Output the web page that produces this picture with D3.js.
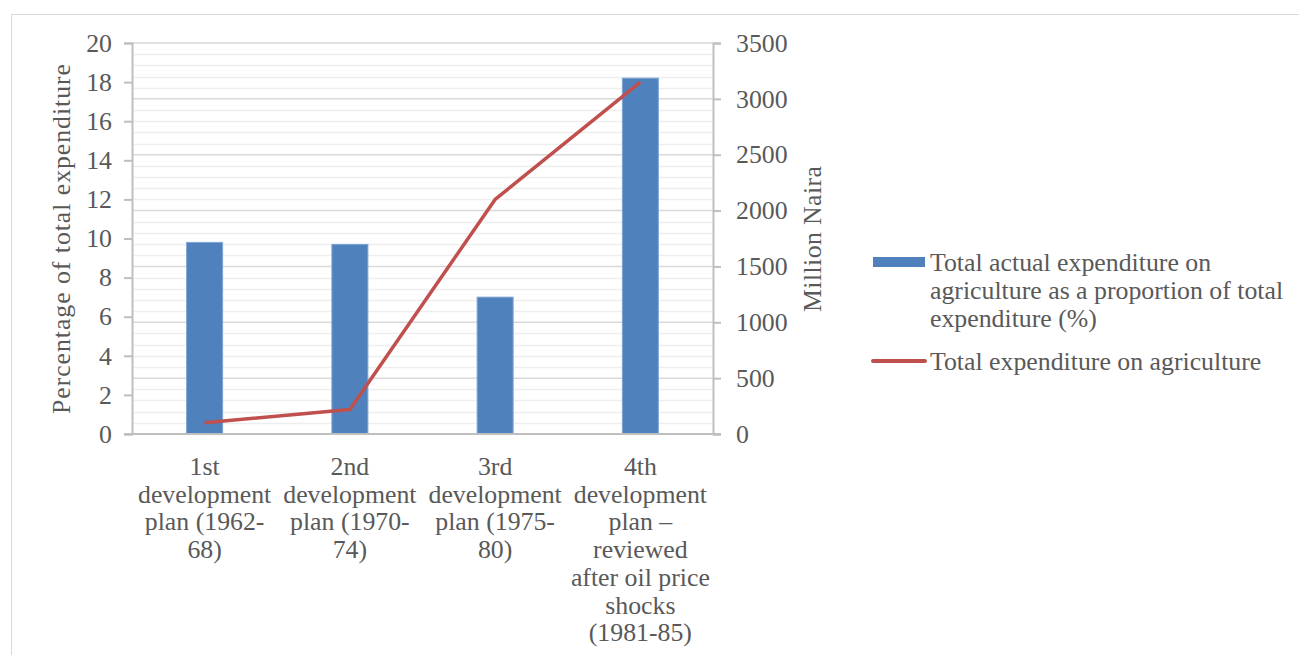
<!DOCTYPE html>
<html>
<head>
<meta charset="utf-8">
<script src="https://cdn.jsdelivr.net/npm/d3@7"></script>
<style>
html,body{margin:0;padding:0;background:#fff;}
svg{display:block;}
text{font-family:"Liberation Serif","Times New Roman",serif;fill:#595959;}
</style>
</head>
<body>
<svg id="chart" width="1299" height="655"></svg>
<script>
const categories = [
  ["1st", "development", "plan (1962-", "68)"],
  ["2nd", "development", "plan (1970-", "74)"],
  ["3rd", "development", "plan (1975-", "80)"],
  ["4th", "development", "plan –", "reviewed", "after oil price", "shocks", "(1981-85)"]
];
const shareValues = [9.8, 9.7, 7.0, 18.2];
const expenditureValues = [100, 220, 2100, 3150];
const leftTicks = [0, 2, 4, 6, 8, 10, 12, 14, 16, 18, 20];
const rightTicks = [0, 500, 1000, 1500, 2000, 2500, 3000, 3500];
const seriesNames = ["Total actual expenditure on agriculture as a proportion of total expenditure (%)", "Total expenditure on agriculture"];
const legendLines = [["Total actual expenditure on", "agriculture as a proportion of total", "expenditure (%)"], ["Total expenditure on agriculture"]];
const axisTitles = ["Percentage of total expenditure", "Million Naira"];

const svg = d3.select("#chart");
const FS = 25.8;
const L = 132, R = 713, T = 43, B = 434;

// outer frame
svg.append("rect").attr("x", 11.5).attr("y", 14.5).attr("width", 1300).attr("height", 700)
  .attr("fill", "none").attr("stroke", "#d9d9d9").attr("stroke-width", 1);

const x = d3.scaleBand().domain(d3.range(categories.length)).range([L, R]).paddingInner(0).paddingOuter(0);
const yL = d3.scaleLinear().domain([0, 20]).range([B, T]);
const yR = d3.scaleLinear().domain([0, 3500]).range([B, T]);

// gridlines (right axis based)
const minor = d3.range(0, 3501, 100);
svg.append("g").selectAll("line").data(minor.filter(v => v % 500 !== 0)).join("line")
  .attr("x1", L).attr("x2", R).attr("y1", d => Math.round(yR(d)) + 0.5).attr("y2", d => Math.round(yR(d)) + 0.5)
  .attr("stroke", "#eeeeee").attr("stroke-width", 1.5);
svg.append("g").selectAll("line").data(rightTicks).join("line")
  .attr("x1", L).attr("x2", R).attr("y1", d => yR(d)).attr("y2", d => yR(d))
  .attr("stroke", "#d9d9d9").attr("stroke-width", 1.5);

// bars
const bw = 36;
svg.append("g").selectAll("rect").data(shareValues).join("rect")
  .attr("x", (d, i) => x(i) + x.bandwidth() / 2 - bw / 2)
  .attr("y", d => yL(d))
  .attr("width", bw)
  .attr("height", d => B - yL(d))
  .attr("fill", "#4F81BD").attr("stroke", "#7FA4D3").attr("stroke-width", 1);

// axes
const axisColor = "#bfbfbf";
const gLeft = svg.append("g").attr("transform", `translate(${L},0)`)
  .call(d3.axisLeft(yL).tickValues(leftTicks).tickFormat(d3.format("d")).tickSize(8).tickPadding(12));
const gRight = svg.append("g").attr("transform", `translate(${R},0)`)
  .call(d3.axisRight(yR).tickValues(rightTicks).tickFormat(d3.format("d")).tickSize(8).tickPadding(15));
const gBottom = svg.append("g").attr("transform", `translate(0,${B})`)
  .call(d3.axisBottom(x).tickSize(0).tickFormat(""));
[gLeft, gRight, gBottom].forEach(g => {
  g.selectAll("path").attr("stroke", axisColor).attr("stroke-width", 2);
  g.selectAll("line").attr("stroke", axisColor).attr("stroke-width", 2);
  g.selectAll("text").attr("fill", "#595959").style("font-size", FS + "px").style("font-family", '"Liberation Serif",serif');
});
gBottom.select("path").attr("d", `M${L - 8},0H${R + 8}`);

// category labels
const catG = svg.append("g");
categories.forEach((lines, i) => {
  const t = catG.append("text").attr("text-anchor", "middle").style("font-size", FS + "px");
  lines.forEach((ln, j) => {
    t.append("tspan").attr("x", x(i) + x.bandwidth() / 2).attr("y", 475 + j * 27.7).text(ln);
  });
});

// line
const line = d3.line().x((d, i) => x(i) + x.bandwidth() / 2).y(d => yR(d));
svg.append("path").datum(expenditureValues).attr("d", line)
  .attr("fill", "none").attr("stroke", "#C0504D").attr("stroke-width", 3.5).attr("stroke-linejoin", "round");

// axis titles
svg.append("text").attr("transform", "translate(70,239) rotate(-90)").attr("text-anchor", "middle")
  .attr("textLength", 350).attr("lengthAdjust", "spacing")
  .style("font-size", FS + "px").text(axisTitles[0]);
svg.append("text").attr("transform", "translate(821,239) rotate(-90)").attr("text-anchor", "middle")
  .attr("textLength", 146).attr("lengthAdjust", "spacing")
  .style("font-size", FS + "px").text(axisTitles[1]);

// legend
const lg = svg.append("g");
lg.append("rect").attr("x", 873).attr("y", 257).attr("width", 52).attr("height", 10).attr("fill", "#4F81BD");
const lt1 = lg.append("text").style("font-size", FS + "px");
legendLines[0].forEach((ln, j) => lt1.append("tspan").attr("x", 930).attr("y", 271 + j * 28).text(ln));
lg.append("line").attr("x1", 873).attr("x2", 925).attr("y1", 361).attr("y2", 361)
  .attr("stroke", "#C0504D").attr("stroke-width", 4).attr("stroke-linecap", "round");
const lt2 = lg.append("text").style("font-size", FS + "px");
legendLines[1].forEach((ln, j) => lt2.append("tspan").attr("x", 930).attr("y", 370 + j * 28).text(ln));
</script>
</body>
</html>
